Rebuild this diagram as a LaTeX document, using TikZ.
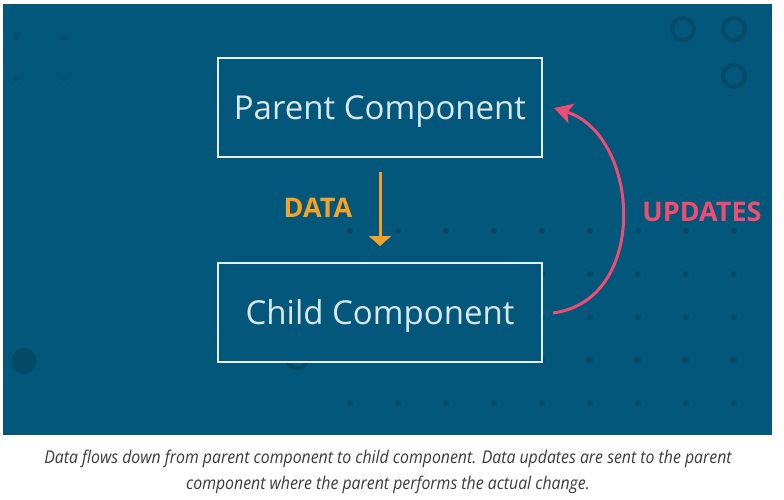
\documentclass[tikz,border=0pt]{standalone}
\usepackage{fontspec}
\setmainfont{Open Sans}
\newfontfamily\capfont[FakeStretch=0.9]{Open Sans}
\usetikzlibrary{arrows.meta}
\definecolor{panel}{HTML}{02577A}
\definecolor{deco}{HTML}{044B69}
\definecolor{boxline}{HTML}{E4F0F4}
\definecolor{boxtext}{HTML}{D8E8EE}
\definecolor{dataor}{HTML}{F6A227}
\definecolor{updpink}{HTML}{EF4C72}
\definecolor{captxt}{HTML}{3A3A3A}
\tikzset{
  compbox/.style={draw=boxline, fill=panel, line width=2pt, minimum width=324pt, minimum height=99pt,
    text=boxtext, font=\fontsize{33}{40}\selectfont, inner sep=0pt, text height=24pt, text depth=0pt},
  flowlabel/.style={font=\bfseries\fontsize{27}{32}\selectfont, inner sep=0pt},
  decodot/.style={fill=deco},
  decoring/.style={draw=deco, line width=4pt},
}
\begin{document}
\begin{tikzpicture}[x=1pt,y=-1pt]
\useasboundingbox (0,0) rectangle (784,500);
\fill[white] (0,0) rectangle (784,500);
\fill[panel] (3,4) rectangle (772,435);
% decorative dots
\foreach \x in {350,398,...,734} \foreach \y in {231,274,...,403} \fill[decodot] (\x,\y) circle (3pt);
\foreach \x in {16,64} \foreach \y in {37,79} \fill[decodot] (\x,\y) circle (3pt);
% decorative rings and disc
\draw[decoring] (683,29) circle (11pt);
\draw[decoring] (734,29) circle (11pt);
\draw[decoring] (734,76) circle (11pt);
\draw[decoring] (297,357) circle (11pt);
\fill[decodot] (24,361) circle (13pt);
% boxes
\node[compbox] (parent) at (380,107.5) {Parent Component};
\node[compbox] (child) at (380,312.5) {Child Component};
% data arrow
\draw[dataor, line width=3pt, shorten <=14pt, shorten >=16pt, -{Triangle[width=22pt,length=10pt]}] (parent.south) -- (child.north);
\node[flowlabel, text=dataor] (data) at (318,208) {DATA};
% updates arrow
\coordinate (us) at (553,313);
\coordinate (ue) at (554,108);
\draw[updpink, line width=3pt, -{Stealth[length=18pt,width=20pt,inset=4pt]}] (us) .. controls (650,300) and (640,135) .. (ue);
\node[flowlabel, text=updpink] (upd) at (702,212) {UPDATES};
% caption
\node[font=\capfont\itshape\fontsize{17.6}{26}\selectfont, text=captxt, align=center, inner sep=0pt] (cap) at (388,472)
  {Data flows down from parent component to child component. Data updates are sent to the parent\\component where the parent performs the actual change.};
\end{tikzpicture}
\end{document}
